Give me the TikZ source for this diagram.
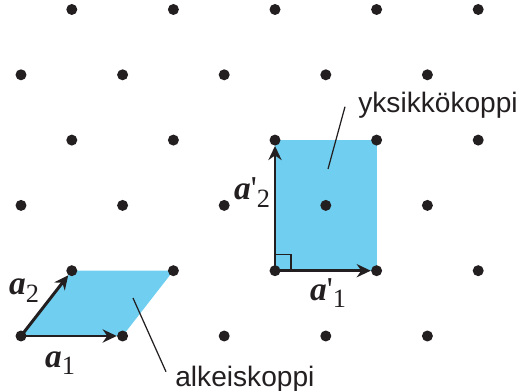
\documentclass[tikz,border=0pt]{standalone}
\usepackage{fontspec}
\setmainfont{Liberation Serif}
\setsansfont{Liberation Sans}
\usetikzlibrary{arrows.meta}
\definecolor{cellblue}{RGB}{112,207,240}
\definecolor{inkblack}{RGB}{35,31,32}

\begin{document}
\begin{tikzpicture}[x=0.02cm,y=-0.02cm,
    latpoint/.style={circle,fill=inkblack,inner sep=0pt,minimum size=0.22cm},
    vecarrow/.style={-{Stealth[length=8pt,width=7.5pt]},line width=1.7pt,draw=inkblack},
    veclabel/.style={anchor=base,inner sep=0pt,text=inkblack,font=\fontsize{19pt}{19pt}\selectfont},
    cellname/.style={anchor=base west,inner sep=0pt,text=inkblack,font=\sffamily\fontsize{16pt}{18pt}\selectfont},
    leader/.style={draw=inkblack,line width=0.7pt}]

        \useasboundingbox (0,0) rectangle (520,391);

        % Cells
        \fill[cellblue] (21,336) -- (122.6,336) -- (173.4,270.7) -- (71.8,270.7) -- cycle;
        \fill[cellblue] (275,270.7) rectangle (376.6,140.1);

        % Lattice points
        \foreach \j in {0,2,4}
            \foreach \i in {0,2,...,8}
                \node[latpoint] (p\i\j) at (21+50.8*\i,336-65.3*\j) {};
        \foreach \j in {1,3,5}
            \foreach \i in {1,3,...,9}
                \node[latpoint] (p\i\j) at (21+50.8*\i,336-65.3*\j) {};

        % Right angle
        \draw[inkblack,line width=0.7pt] (p51.center) rectangle ++(16,-16);

        % Vectors
        \draw[vecarrow] (p00.center) -- (p20);
        \draw[vecarrow] (p00.center) -- (p11);
        \draw[vecarrow] (p51.center) -- (p71);
        \draw[vecarrow] (p51.center) -- (p53);

        % Vector labels
        \node[veclabel] (a1) at (60,367) {\textbf{\textit{a}}\raisebox{-4.5pt}{\fontsize{15pt}{15pt}\selectfont 1}};
        \node[veclabel] (a2) at (24,295) {\textbf{\textit{a}}\raisebox{-4.5pt}{\fontsize{15pt}{15pt}\selectfont 2}};
        \node[veclabel] (b1) at (328,300) {\textbf{\textit{a}}\textquotesingle\raisebox{-4.5pt}{\fontsize{15pt}{15pt}\selectfont 1}};
        \node[veclabel] (b2) at (252,200) {\textbf{\textit{a}}\textquotesingle\raisebox{-4.5pt}{\fontsize{15pt}{15pt}\selectfont 2}};

        % Cell names
        \node[cellname] (yk) at (358,113) {yksikkökoppi};
        \node[cellname] (ak) at (175,386) {alkeiskoppi};
        \coordinate (ykend) at (328,169);
        \coordinate (akend) at (133,298);
        \draw[leader] ([shift={(-13,1)}]yk.west) -- (ykend);
        \draw[leader] (akend) -- ([shift={(-9,-7)}]ak.west);
\end{tikzpicture}
\end{document}
